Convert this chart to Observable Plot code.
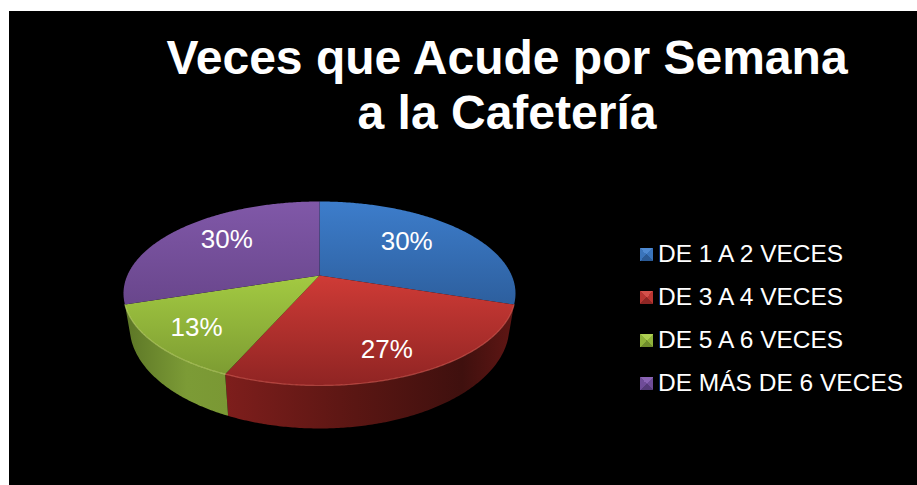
<!DOCTYPE html>
<html lang="es">
<head>
<meta charset="utf-8">
<script src="https://cdn.jsdelivr.net/npm/d3@7"></script>
<script src="https://cdn.jsdelivr.net/npm/@observablehq/plot@0.6"></script>
<style>
  html, body { margin: 0; padding: 0; background: #fff; overflow: hidden; }
  #frame { position: absolute; left: 9px; top: 11px; width: 908px; height: 474px; background: #000;
           font-family: "Liberation Sans", Arial, sans-serif; color: #fff; }
  #title { position: absolute; left: 0; top: 19px; width: 996px; text-align: center; margin: 0;
           font-size: 48px; line-height: 55px; font-weight: 700; color: #fff; }
  #chart { position: absolute; left: 0; top: 139px; }
  #chart svg { display: block; }
  #legend { position: absolute; left: 631px; top: 221px; margin: 0; padding: 0; list-style: none; }
  #legend li { height: 43px; display: flex; align-items: center; font-size: 24.5px; white-space: nowrap; }
  #legend i { width: 13px; height: 13px; margin-right: 5px; flex: none; margin-top: 2px; }
</style>
</head>
<body>
<div id="frame">
  <h1 id="title"></h1>
  <div id="chart"></div>
  <ul id="legend"></ul>
</div>
<script>
const titleLines = ["Veces que Acude por Semana", "a la Cafetería"];
const categories = ["DE 1 A 2 VECES", "DE 3 A 4 VECES", "DE 5 A 6 VECES", "DE MÁS DE 6 VECES"];
const values = [30, 26.6, 13.4, 30];

// Styling and layout, separate from the data
const topStops = [
  ["#3d7dcb", "#2d5f9e"],
  ["#cf3b36", "#8f2423"],
  ["#a3ca42", "#7d9c32"],
  ["#8058a8", "#69468c"]
];
const sideStops = {
  1: [["0%", "#7e1e1c"], ["45%", "#5a1613"], ["82%", "#3f100e"], ["100%", "#601614"]],
  2: [["0%", "#5c7626"], ["60%", "#7c9b36"], ["100%", "#7a9834"]]
};
const swatchColors = [
  ["#4f8ad2", "#3a74bb", "#2a5a96"],
  ["#d4504a", "#b93531", "#8e2624"],
  ["#aecf52", "#8fb23a", "#6f8c2c"],
  ["#8a64b4", "#6f4c98", "#553a78"]
];
const tilt = -0.1957;             // perspective of the disc
const lowerDisc = {sx: 0.969, sy: 1.109, oy: 0.35};
const labelRadius = [0.64, 0.78, 0.78, 0.68];
const labelTurn = [-0.07, 0.025, -0.01, 0.065];

const upperDisc = {sx: 1, sy: 1, oy: 0};
function project(angle, radius, disc) {
  const X = radius * Math.sin(angle), Y = -radius * Math.cos(angle);
  const w = 1 + tilt * Y;
  return {x: disc.sx * X / w, y: disc.oy + disc.sy * Y / w};
}
function rim(a0, a1, disc) {
  const n = Math.max(2, Math.ceil(Math.abs(a1 - a0) / 0.01));
  return d3.range(n + 1).map(i => project(a0 + (a1 - a0) * i / n, 1, disc));
}

const slices = d3.pie().sort(null)(values);

const defs = () => {
  const d = d3.create("svg:defs");
  const add = (id, stops, x2, y2) => {
    const g = d.append("linearGradient").attr("id", id)
      .attr("x1", 0).attr("y1", 0).attr("x2", x2).attr("y2", y2);
    stops.forEach(([o, c]) => g.append("stop").attr("offset", o).attr("stop-color", c));
  };
  topStops.forEach((s, i) => add("top" + i, [["0%", s[0]], ["100%", s[1]]], 0, 1));
  Object.entries(sideStops).forEach(([i, s]) => add("side" + i, s, 1, 0));
  return d.node();
};

const marks = [defs];
// Side walls of the two front slices
[1, 2].forEach(i => {
  const s = slices[i];
  marks.push(Plot.line(
    [...rim(s.startAngle, s.endAngle, upperDisc), ...rim(s.endAngle, s.startAngle, lowerDisc)],
    {x: "x", y: "y", fill: `url(#side${i})`, stroke: "none"}
  ));
});
// Top faces
slices.forEach((s, i) => {
  marks.push(Plot.line(
    [{x: 0, y: 0}, ...rim(s.startAngle, s.endAngle, upperDisc)],
    {x: "x", y: "y", fill: `url(#top${i})`, stroke: "none"}
  ));
});
// Lit edge of the front rim
[[1, "#e8675e"], [2, "#cfe67a"]].forEach(([i, c]) => {
  const s = slices[i];
  marks.push(Plot.line(rim(s.startAngle, s.endAngle, upperDisc),
    {x: "x", y: "y", stroke: c, strokeWidth: 1.2, strokeOpacity: 0.55}));
});
// Percent labels
const labelData = slices.map((s, i) => {
  const p = project((s.startAngle + s.endAngle) / 2 + labelTurn[i], labelRadius[i], upperDisc);
  return {...p, text: Math.round(values[i]) + "%"};
});
marks.push(Plot.text(labelData, {
  x: "x", y: "y", text: "text", fill: "#fff", fontSize: 26,
  fontFamily: "Liberation Sans, Arial, sans-serif", textAnchor: "middle", lineAnchor: "middle"
}));

const chart = Plot.plot({
  width: 620,
  height: 335,
  margin: 0,
  style: {background: "transparent", color: "#fff"},
  x: {domain: [-1, 1], range: [310 - 192.2, 310 + 192.2], axis: null},
  y: {domain: [-1, 1], range: [125 - 88.48, 125 + 88.48], axis: null},
  marks
});
document.getElementById("chart").append(chart);

document.getElementById("title").innerHTML = titleLines.join("<br>");
d3.select("#legend").selectAll("li").data(categories).join("li").each(function (c, i) {
  const [hi, mid, lo] = swatchColors[i];
  const li = d3.select(this);
  li.append("i").style("background",
    `conic-gradient(from 315deg, ${hi} 0 25%, ${mid} 25% 50%, ${lo} 50% 75%, ${mid} 75% 100%)`);
  li.append("span").text(c);
});
</script>
</body>
</html>
